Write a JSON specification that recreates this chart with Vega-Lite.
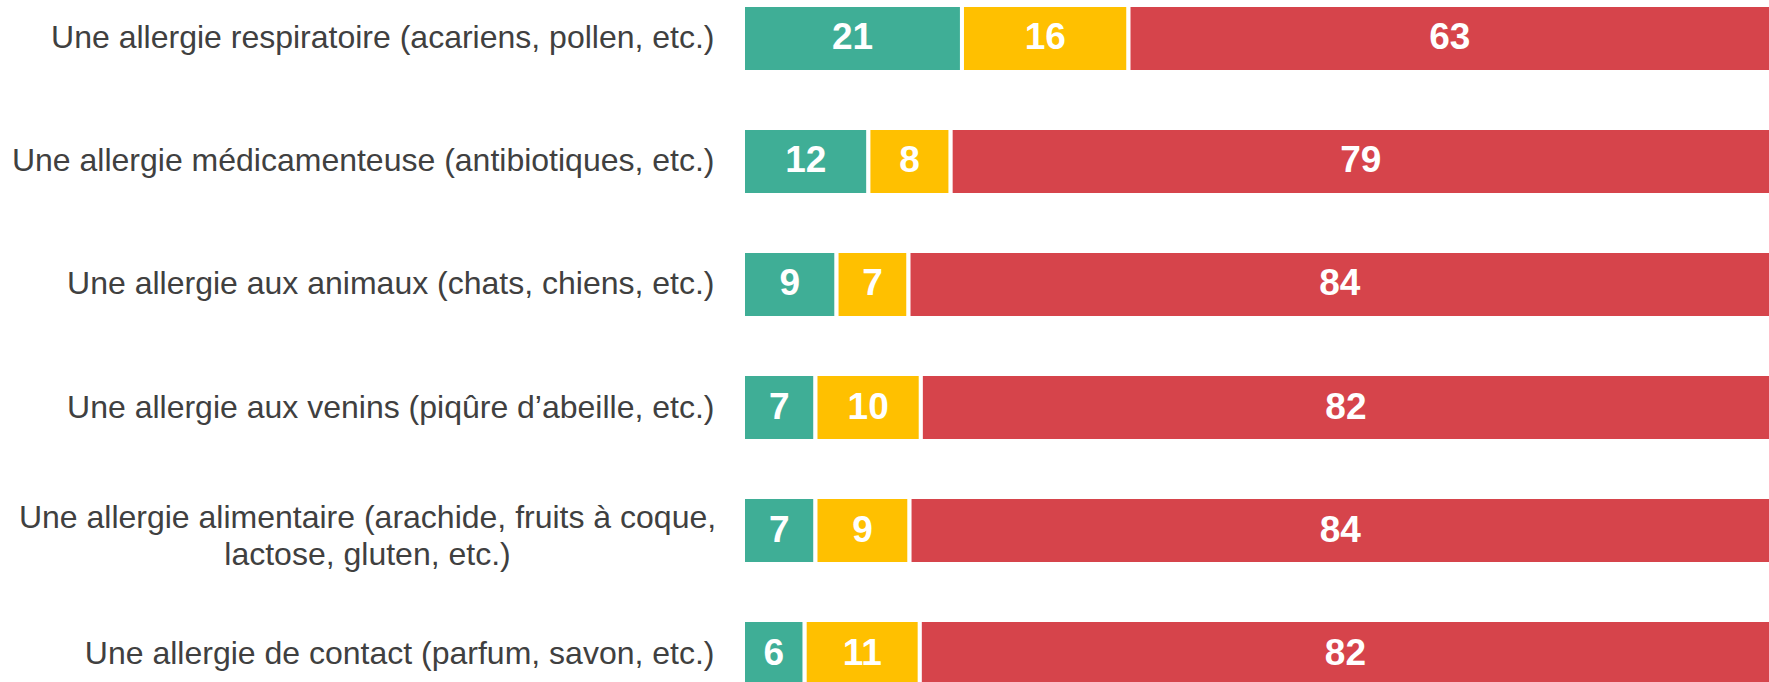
{
  "$schema": "https://vega.github.io/schema/vega-lite/v6.json",
  "autosize": "none",
  "padding": {"left": 743, "top": 0, "right": 0, "bottom": 0},
  "width": 1026,
  "height": 682,
  "background": "white",
  "view": {"stroke": null},
  "data": {
    "values": [
      {"category": "Une allergie respiratoire (acariens, pollen, etc.)", "segment": "A", "order": 1, "value": 21.3, "label": 21},
      {"category": "Une allergie respiratoire (acariens, pollen, etc.)", "segment": "B", "order": 2, "value": 16.2, "label": 16},
      {"category": "Une allergie respiratoire (acariens, pollen, etc.)", "segment": "C", "order": 3, "value": 62.5, "label": 63},
      {"category": "Une allergie médicamenteuse (antibiotiques, etc.)", "segment": "A", "order": 1, "value": 12.2, "label": 12},
      {"category": "Une allergie médicamenteuse (antibiotiques, etc.)", "segment": "B", "order": 2, "value": 8.0, "label": 8},
      {"category": "Une allergie médicamenteuse (antibiotiques, etc.)", "segment": "C", "order": 3, "value": 79.8, "label": 79},
      {"category": "Une allergie aux animaux (chats, chiens, etc.)", "segment": "A", "order": 1, "value": 9.1, "label": 9},
      {"category": "Une allergie aux animaux (chats, chiens, etc.)", "segment": "B", "order": 2, "value": 7.0, "label": 7},
      {"category": "Une allergie aux animaux (chats, chiens, etc.)", "segment": "C", "order": 3, "value": 83.9, "label": 84},
      {"category": "Une allergie aux venins (piqûre d’abeille, etc.)", "segment": "A", "order": 1, "value": 7.05, "label": 7},
      {"category": "Une allergie aux venins (piqûre d’abeille, etc.)", "segment": "B", "order": 2, "value": 10.25, "label": 10},
      {"category": "Une allergie aux venins (piqûre d’abeille, etc.)", "segment": "C", "order": 3, "value": 82.7, "label": 82},
      {"category": "Une allergie alimentaire (arachide, fruits à coque,|lactose, gluten, etc.)", "segment": "A", "order": 1, "value": 7.05, "label": 7},
      {"category": "Une allergie alimentaire (arachide, fruits à coque,|lactose, gluten, etc.)", "segment": "B", "order": 2, "value": 9.15, "label": 9},
      {"category": "Une allergie alimentaire (arachide, fruits à coque,|lactose, gluten, etc.)", "segment": "C", "order": 3, "value": 83.8, "label": 84},
      {"category": "Une allergie de contact (parfum, savon, etc.)", "segment": "A", "order": 1, "value": 6.0, "label": 6},
      {"category": "Une allergie de contact (parfum, savon, etc.)", "segment": "B", "order": 2, "value": 11.2, "label": 11},
      {"category": "Une allergie de contact (parfum, savon, etc.)", "segment": "C", "order": 3, "value": 82.8, "label": 82}
    ]
  },
  "encoding": {
    "y": {
      "field": "category",
      "type": "nominal",
      "sort": null,
      "scale": {"range": [0, 692], "paddingInner": 0.4553, "paddingOuter": 0.04065},
      "axis": {
        "title": null,
        "domain": false,
        "ticks": false,
        "labelExpr": "split(datum.label, '|')",
        "labelFont": "Liberation Sans",
        "labelFontSize": 32,
        "labelColor": "#404040",
        "labelLimit": 0,
        "labelLineHeight": 37,
        "labelAlign": {"condition": {"test": "indexof(datum.value, '|') >= 0", "value": "center"}, "value": "right"},
        "labelPadding": {"condition": {"test": "indexof(datum.value, '|') >= 0", "value": 376}, "value": 29},
        "labelOffset": {"condition": {"test": "indexof(datum.value, '|') >= 0", "value": -13}, "value": 0}
      }
    },
    "x": {
      "field": "value",
      "type": "quantitative",
      "stack": "zero",
      "scale": {"domain": [0, 100], "nice": false, "range": [0, 1028]},
      "axis": null
    },
    "order": {"field": "order", "type": "quantitative"}
  },
  "layer": [
    {
      "mark": {"type": "bar", "stroke": "white", "strokeWidth": 4},
      "encoding": {
        "color": {
          "field": "segment",
          "type": "nominal",
          "scale": {"domain": ["A", "B", "C"], "range": ["#3FAE96", "#FFC000", "#D6444B"]},
          "legend": null
        }
      }
    },
    {
      "mark": {"type": "text", "font": "Liberation Sans", "fontWeight": "bold", "fontSize": 37, "color": "white", "align": "center", "baseline": "middle"},
      "encoding": {
        "x": {"field": "value", "type": "quantitative", "stack": "zero", "bandPosition": 0.5},
        "text": {"field": "label", "type": "quantitative"}
      }
    }
  ]
}
